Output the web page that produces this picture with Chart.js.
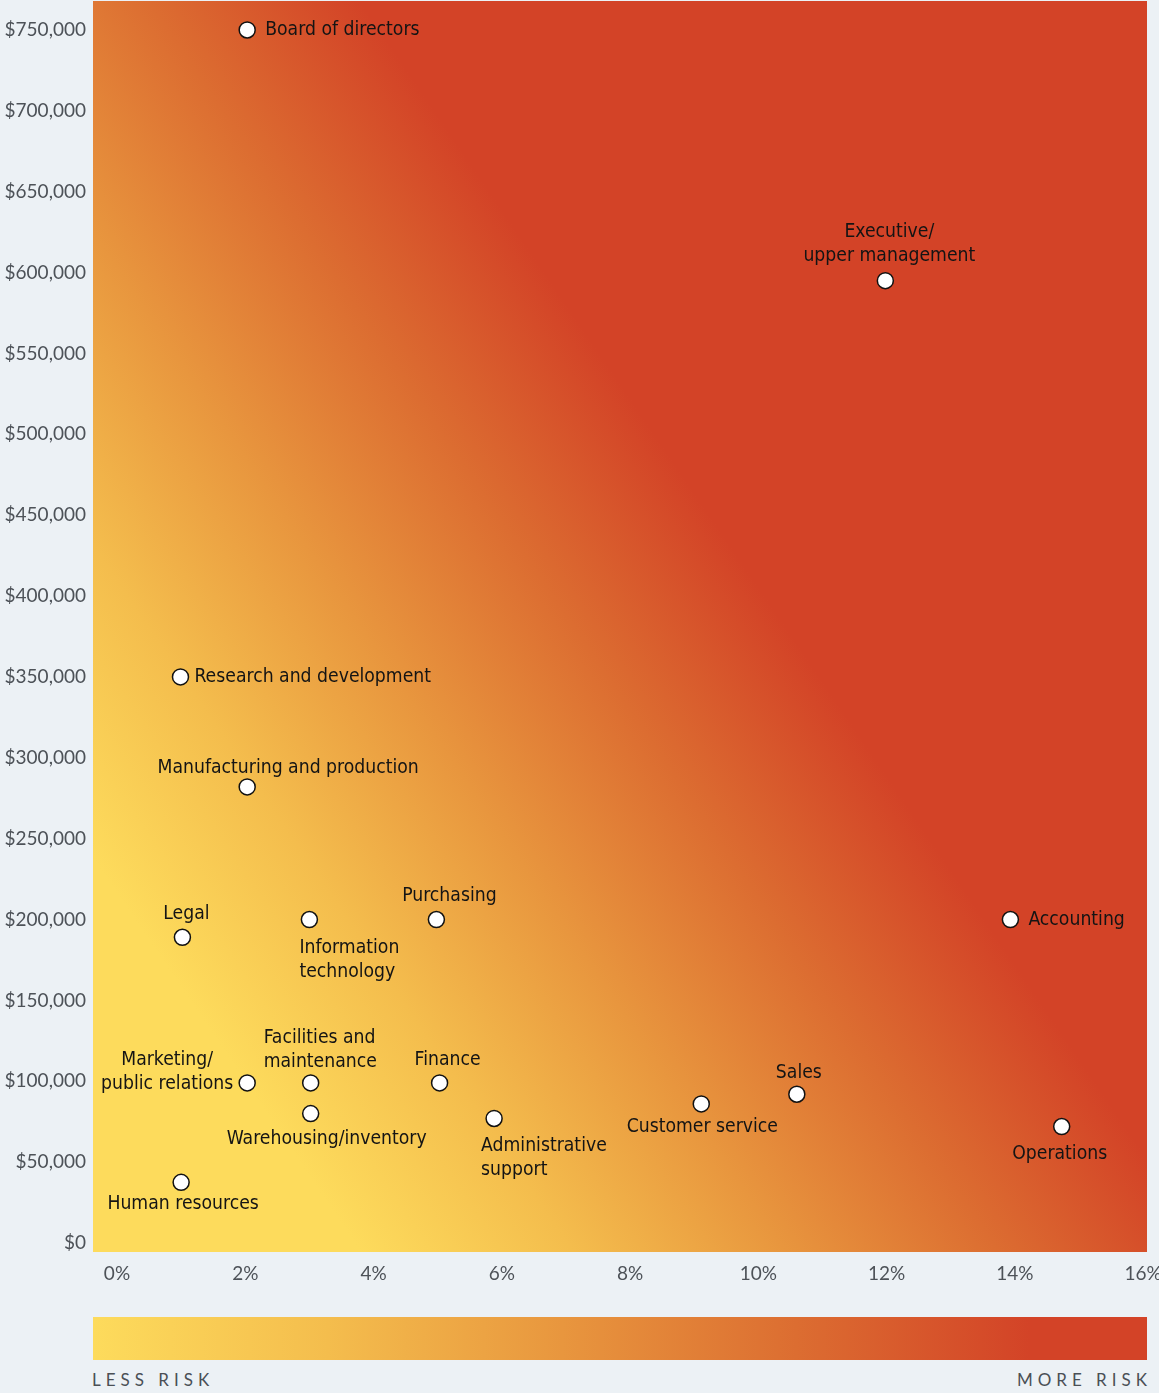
<!DOCTYPE html>
<html><head><meta charset="utf-8">
<script src="https://cdn.jsdelivr.net/npm/chart.js@4.4.1/dist/chart.umd.min.js"></script>
<style>
html,body{margin:0;padding:0;background:#ECF1F5;}
body{width:1159px;height:1393px;position:relative;overflow:hidden;}
#wrap{position:absolute;left:0;top:0;width:1159px;height:1300px;}
#bar{position:absolute;left:93px;top:1317px;width:1054px;height:43px;}
.lg{position:absolute;top:1369px;font:17px Lato,sans-serif;letter-spacing:5px;color:#4A4F55;line-height:22px;}
#less{left:92px;}
#more{right:7px;}
</style></head>
<body>
<div id="wrap"><canvas id="c" width="1159" height="1300"></canvas></div>
<div id="bar"></div>
<div class="lg" id="less">LESS RISK</div>
<div class="lg" id="more">MORE RISK</div>
<script>
// ---- data ----
const departments = ['Board of directors','Executive/\nupper management','Research and development','Manufacturing and production','Legal','Information\ntechnology','Purchasing','Accounting','Marketing/\npublic relations','Facilities and\nmaintenance','Finance','Warehousing/inventory','Administrative\nsupport','Customer service','Sales','Operations','Human resources'];
const riskPct = [2.03, 11.98, 0.99, 2.03, 1.02, 3.0, 4.98, 13.93, 2.03, 3.02, 5.03, 3.02, 5.88, 9.11, 10.6, 14.73, 1.0];
const medianLoss = [750000, 595000, 350000, 282000, 189000, 200000, 200000, 200000, 99000, 99000, 99000, 80000, 77000, 86000, 92000, 72000, 37500];
const xTicks = [0, 2, 4, 6, 8, 10, 12, 14, 16];
const yTicks = [0, 50000, 100000, 150000, 200000, 250000, 300000, 350000, 400000, 450000, 500000, 550000, 600000, 650000, 700000, 750000];
const legendLabels = ['LESS RISK', 'MORE RISK'];

// ---- layout / style (not data) ----
const labelLayout = [
  ['left', 18, 0], ['center', 4, -49], ['left', 14, 0], ['center', 41, -19], ['center', 4, -24],
  ['left', -10, 28], ['center', 13, -24], ['left', 18, 0], ['center', -80, -23], ['left', -47, -45],
  ['center', 8, -23], ['center', 16, 25], ['left', -13, 27], ['center', 1, 23], ['center', 2, -21],
  ['center', -2, 27], ['center', 2, 21]
];
const rampStops = [[0, '#FDDB5C'], [0.25, '#F4BD4D'], [0.5, '#E8963E'], [0.75, '#DC6D31'], [1, '#D34327']];

document.getElementById('less').textContent = legendLabels[0];
document.getElementById('more').textContent = legendLabels[1];
document.getElementById('bar').style.background =
  'linear-gradient(to right,' + rampStops.map(s => s[1] + ' ' + (s[0] * 89) + '%').join(',') + ', #D34327 100%)';

const bgPlugin = {
  id: 'bg',
  beforeDraw(chart) {
    const {ctx, chartArea: a} = chart;
    const L = a.left, T = a.top;
    const g = ctx.createLinearGradient(L - 398.7, T + 271.1, L + 182.6, T - 124.2);
    rampStops.forEach(s => g.addColorStop(s[0], s[1]));
    ctx.save();
    ctx.fillStyle = g;
    ctx.fillRect(L, T, a.right - L, a.bottom - T);
    ctx.restore();
  }
};

const labelPlugin = {
  id: 'labels',
  afterDatasetsDraw(chart) {
    const ctx = chart.ctx;
    const meta = chart.getDatasetMeta(0);
    ctx.save();
    ctx.font = '20px "DejaVu Sans Condensed", "Liberation Sans Narrow", sans-serif';
    ctx.fillStyle = '#141414';
    ctx.textBaseline = 'middle';
    meta.data.forEach((pt, i) => {
      const [align, dx, dy] = labelLayout[i];
      ctx.textAlign = align;
      departments[i].split('\n').forEach((line, k) => {
        ctx.save();
        ctx.translate(pt.x + dx, pt.y + dy + k * 24);
        ctx.scale(0.96, 1);
        ctx.fillText(line, 0, 0);
        ctx.restore();
      });
    });
    ctx.restore();
  }
};

const tickFont = {family: 'Lato', size: 19};
new Chart(document.getElementById('c'), {
  type: 'scatter',
  data: {
    datasets: [{
      data: riskPct.map((x, i) => ({x: x, y: medianLoss[i]})),
      pointRadius: 8,
      pointHoverRadius: 8,
      pointBackgroundColor: '#ffffff',
      pointBorderColor: '#111111',
      pointBorderWidth: 1.5,
      pointHoverBorderWidth: 1.5
    }]
  },
  options: {
    responsive: false,
    devicePixelRatio: 1,
    animation: false,
    events: [],
    layout: {autoPadding: false, padding: {top: 1, right: 12, left: 0, bottom: 0}},
    plugins: {legend: {display: false}, tooltip: {enabled: false}},
    scales: {
      x: {
        type: 'linear', min: -0.374, max: 16.06,
        grid: {display: false, drawTicks: false, tickLength: 0},
        border: {display: false},
        afterBuildTicks: s => { s.ticks = xTicks.map(v => ({value: v})); },
        afterFit: s => { s.height = 48; s.paddingLeft = 0; s.paddingRight = 0; },
        ticks: {font: tickFont, color: '#4D5258', padding: 10, maxRotation: 0, autoSkip: false,
                callback: v => v + '%'}
      },
      y: {
        type: 'linear', min: -5565, max: 767900,
        grid: {display: false, drawTicks: false, tickLength: 0},
        border: {display: false},
        afterBuildTicks: s => { s.ticks = yTicks.map(v => ({value: v})); },
        afterFit: s => { s.width = 93; s.paddingTop = 0; s.paddingBottom = 0; },
        ticks: {font: tickFont, color: '#4D5258', padding: 7, autoSkip: false,
                callback: v => '$' + v.toLocaleString('en-US')}
      }
    }
  },
  plugins: [bgPlugin, labelPlugin]
});
</script>
</body></html>
